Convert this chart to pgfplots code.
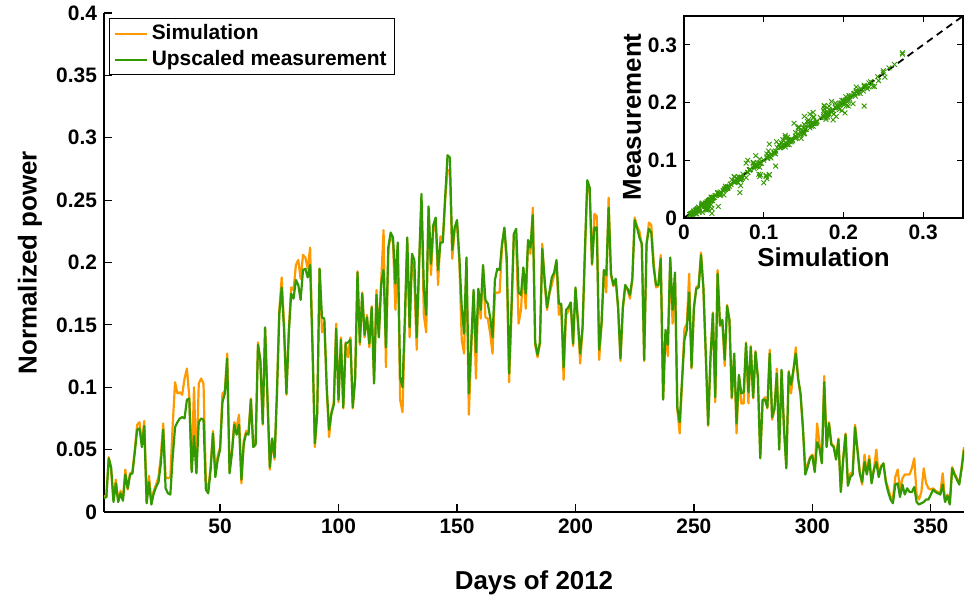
\documentclass[border=0pt]{standalone}
\usepackage{fontspec}
\setmainfont{Liberation Sans}
\usepackage{pgfplots}
\usepackage{pgfplotstable}
\pgfplotsset{compat=1.18}
\definecolor{simorange}{RGB}{255,153,0}
\definecolor{measgreen}{RGB}{51,153,0}
\pgfplotstableread{
d sim meas
1 0.013 0.011
2 0.012 0.012
3 0.044 0.043
4 0.034 0.036
5 0.010 0.008
6 0.026 0.023
7 0.009 0.008
8 0.017 0.015
9 0.011 0.009
10 0.034 0.030
11 0.018 0.019
12 0.031 0.030
13 0.032 0.031
14 0.050 0.048
15 0.070 0.066
16 0.072 0.067
17 0.055 0.052
18 0.073 0.069
19 0.008 0.007
20 0.029 0.024
21 0.008 0.006
22 0.017 0.015
23 0.022 0.020
24 0.028 0.024
25 0.045 0.039
26 0.071 0.066
27 0.028 0.019
28 0.027 0.015
29 0.028 0.014
30 0.070 0.044
31 0.104 0.068
32 0.095 0.072
33 0.096 0.075
34 0.094 0.076
35 0.107 0.075
36 0.115 0.090
37 0.092 0.091
38 0.034 0.032
39 0.100 0.061
40 0.032 0.031
41 0.103 0.072
42 0.107 0.075
43 0.103 0.074
44 0.024 0.018
45 0.018 0.015
46 0.036 0.034
47 0.065 0.063
48 0.030 0.028
49 0.045 0.042
50 0.052 0.050
51 0.095 0.088
52 0.097 0.095
53 0.127 0.123
54 0.033 0.031
55 0.049 0.047
56 0.072 0.070
57 0.068 0.062
58 0.078 0.070
59 0.023 0.026
60 0.057 0.055
61 0.065 0.063
62 0.064 0.062
63 0.091 0.090
64 0.053 0.052
65 0.055 0.054
66 0.136 0.134
67 0.120 0.122
68 0.070 0.071
69 0.147 0.148
70 0.090 0.092
71 0.034 0.036
72 0.058 0.059
73 0.042 0.044
74 0.096 0.095
75 0.162 0.159
76 0.188 0.180
77 0.150 0.146
78 0.094 0.095
79 0.146 0.143
80 0.180 0.175
81 0.178 0.171
82 0.198 0.186
83 0.202 0.182
84 0.187 0.170
85 0.206 0.194
86 0.204 0.195
87 0.195 0.188
88 0.212 0.198
89 0.135 0.132
90 0.052 0.055
91 0.080 0.079
92 0.195 0.195
93 0.144 0.156
94 0.152 0.155
95 0.100 0.100
96 0.060 0.066
97 0.080 0.079
98 0.088 0.086
99 0.151 0.147
100 0.088 0.090
101 0.140 0.138
102 0.083 0.084
103 0.136 0.135
104 0.124 0.136
105 0.140 0.138
106 0.083 0.084
107 0.108 0.106
108 0.193 0.192
109 0.134 0.136
110 0.176 0.175
111 0.140 0.142
112 0.158 0.156
113 0.132 0.135
114 0.165 0.164
115 0.105 0.103
116 0.178 0.174
117 0.141 0.140
118 0.185 0.183
119 0.226 0.194
120 0.116 0.132
121 0.210 0.212
122 0.222 0.224
123 0.216 0.220
124 0.162 0.183
125 0.214 0.216
126 0.090 0.108
127 0.080 0.100
128 0.150 0.156
129 0.218 0.220
130 0.140 0.148
131 0.205 0.207
132 0.185 0.202
133 0.130 0.140
134 0.197 0.199
135 0.250 0.255
136 0.158 0.180
137 0.144 0.158
138 0.243 0.245
139 0.190 0.199
140 0.226 0.230
141 0.234 0.236
142 0.182 0.194
143 0.221 0.216
144 0.218 0.216
145 0.250 0.252
146 0.274 0.286
147 0.274 0.284
148 0.203 0.210
149 0.226 0.228
150 0.232 0.234
151 0.200 0.204
152 0.138 0.164
153 0.127 0.143
154 0.203 0.204
155 0.078 0.095
156 0.130 0.135
157 0.176 0.178
158 0.107 0.128
159 0.178 0.179
160 0.155 0.162
161 0.196 0.198
162 0.156 0.170
163 0.155 0.167
164 0.143 0.156
165 0.127 0.140
166 0.175 0.186
167 0.176 0.195
168 0.176 0.194
169 0.213 0.215
170 0.227 0.228
171 0.198 0.204
172 0.104 0.111
173 0.160 0.164
174 0.222 0.223
175 0.216 0.227
176 0.151 0.176
177 0.162 0.174
178 0.195 0.196
179 0.163 0.175
180 0.216 0.218
181 0.207 0.212
182 0.244 0.238
183 0.134 0.136
184 0.124 0.126
185 0.135 0.136
186 0.215 0.211
187 0.183 0.186
188 0.162 0.164
189 0.175 0.176
190 0.182 0.188
191 0.190 0.192
192 0.200 0.202
193 0.158 0.167
194 0.166 0.167
195 0.106 0.116
196 0.158 0.162
197 0.161 0.164
198 0.167 0.168
199 0.133 0.135
200 0.179 0.180
201 0.153 0.154
202 0.119 0.127
203 0.147 0.148
204 0.208 0.210
205 0.264 0.266
206 0.257 0.260
207 0.198 0.199
208 0.239 0.228
209 0.237 0.228
210 0.122 0.130
211 0.150 0.151
212 0.193 0.194
213 0.176 0.190
214 0.252 0.244
215 0.190 0.191
216 0.181 0.182
217 0.186 0.187
218 0.163 0.164
219 0.121 0.123
220 0.163 0.164
221 0.180 0.182
222 0.178 0.179
223 0.171 0.174
224 0.186 0.187
225 0.236 0.234
226 0.229 0.228
227 0.225 0.220
228 0.214 0.215
229 0.121 0.122
230 0.214 0.215
231 0.232 0.227
232 0.230 0.224
233 0.201 0.196
234 0.180 0.182
235 0.181 0.182
236 0.206 0.203
237 0.091 0.090
238 0.143 0.146
239 0.125 0.134
240 0.203 0.204
241 0.151 0.162
242 0.190 0.192
243 0.082 0.084
244 0.063 0.072
245 0.104 0.106
246 0.147 0.138
247 0.151 0.146
248 0.191 0.176
249 0.115 0.116
250 0.163 0.164
251 0.180 0.179
252 0.182 0.180
253 0.208 0.206
254 0.179 0.180
255 0.126 0.127
256 0.069 0.070
257 0.123 0.124
258 0.160 0.159
259 0.088 0.092
260 0.194 0.191
261 0.149 0.150
262 0.153 0.154
263 0.117 0.122
264 0.166 0.165
265 0.153 0.154
266 0.091 0.092
267 0.126 0.127
268 0.063 0.071
269 0.109 0.110
270 0.087 0.095
271 0.087 0.096
272 0.136 0.135
273 0.087 0.096
274 0.133 0.132
275 0.091 0.092
276 0.129 0.128
277 0.107 0.108
278 0.044 0.043
279 0.089 0.090
280 0.092 0.090
281 0.083 0.084
282 0.130 0.127
283 0.074 0.076
284 0.082 0.083
285 0.115 0.111
286 0.051 0.050
287 0.113 0.114
288 0.067 0.068
289 0.036 0.035
290 0.113 0.112
291 0.095 0.102
292 0.113 0.114
293 0.132 0.127
294 0.106 0.107
295 0.094 0.095
296 0.067 0.068
297 0.036 0.030
298 0.038 0.036
299 0.044 0.043
300 0.046 0.045
301 0.033 0.032
302 0.071 0.056
303 0.055 0.051
304 0.040 0.039
305 0.109 0.104
306 0.053 0.052
307 0.072 0.071
308 0.055 0.054
309 0.053 0.052
310 0.043 0.042
311 0.059 0.058
312 0.017 0.016
313 0.043 0.042
314 0.063 0.062
315 0.022 0.021
316 0.031 0.028
317 0.031 0.030
318 0.070 0.068
319 0.051 0.050
320 0.032 0.031
321 0.022 0.024
322 0.046 0.040
323 0.031 0.030
324 0.045 0.042
325 0.024 0.023
326 0.035 0.034
327 0.050 0.040
328 0.029 0.028
329 0.037 0.036
330 0.039 0.039
331 0.025 0.024
332 0.019 0.016
333 0.012 0.010
334 0.011 0.007
335 0.028 0.022
336 0.034 0.023
337 0.018 0.012
338 0.027 0.022
339 0.030 0.014
340 0.030 0.019
341 0.030 0.016
342 0.035 0.016
343 0.043 0.020
344 0.014 0.008
345 0.010 0.006
346 0.016 0.007
347 0.035 0.008
348 0.023 0.010
349 0.019 0.010
350 0.018 0.014
351 0.019 0.018
352 0.017 0.016
353 0.016 0.015
354 0.015 0.014
355 0.031 0.022
356 0.009 0.008
357 0.014 0.013
358 0.007 0.006
359 0.036 0.035
360 0.031 0.030
361 0.027 0.026
362 0.023 0.022
363 0.036 0.035
364 0.052 0.050
}\datatable
\begin{document}
\begin{tikzpicture}
\path[use as bounding box] (-52bp,-44.5bp) rectangle (430.5bp,256bp);
\begin{axis}[
  at={(0,0)}, anchor=south west,
  scale only axis, width=430bp, height=249.5bp,
  xmin=1, xmax=364, ymin=0, ymax=0.4,
  enlargelimits=false,
  axis lines=left, axis line style={-, line width=0.6bp, black},
  tick align=inside, major tick length=4bp, tick style={black, line width=0.6bp},
  xtick={50,100,150,200,250,300,350},
  xticklabels={50,100,150,200,250,300,350},
  ytick={0,0.05,0.1,0.15,0.2,0.25,0.3,0.35,0.4},
  yticklabels={0,0.05,0.1,0.15,0.2,0.25,0.3,0.35,0.4},
  /pgf/number format/assume math mode=true,
  ticklabel style={font=\fontsize{10.5}{12}\selectfont\bfseries},
  xlabel={Days of 2012}, ylabel={Normalized power},
  every axis x label/.style={at={(axis description cs:0.5,-0.1423)}, anchor=center,
    font=\fontsize{13}{15}\selectfont\bfseries},
  every axis y label/.style={at={(axis description cs:-0.086,0.5)}, rotate=90, anchor=center,
    font=\fontsize{13}{15}\selectfont\bfseries},
  legend style={at={(axis description cs:0.0058,0.99)}, anchor=north west, draw=black,
    line width=0.6bp, font=\fontsize{10.5}{12}\selectfont\bfseries,
    inner xsep=2bp, inner ysep=1bp, row sep=0pt},
  legend cell align=left,
  legend image code/.code={\draw[#1] (0bp,0bp) -- (16bp,0bp);},
]
\addplot[simorange, mark=none, line width=1.1bp, line join=round] table[x=d,y=sim]{\datatable};
\addlegendentry{Simulation}
\addplot[measgreen, mark=none, line width=1.1bp, line join=round] table[x=d,y=meas]{\datatable};
\addlegendentry{Upscaled measurement}
\end{axis}
\begin{axis}[
  at={(290bp,147bp)}, anchor=south west,
  scale only axis, width=139.5bp, height=101bp,
  xmin=0, xmax=0.35, ymin=0, ymax=0.35,
  axis background/.style={fill=white},
  axis line style={line width=0.6bp, black},
  tick align=inside, major tick length=3bp, tick style={black, line width=0.6bp},
  xtick={0,0.1,0.2,0.3}, xticklabels={0,0.1,0.2,0.3},
  ytick={0,0.1,0.2,0.3}, yticklabels={0,0.1,0.2,0.3},
  ticklabel style={font=\fontsize{10.5}{12}\selectfont\bfseries},
  xlabel={Simulation}, ylabel={Measurement},
  every axis x label/.style={at={(axis description cs:0.5,-0.193)}, anchor=center,
    font=\fontsize{13}{15}\selectfont\bfseries},
  every axis y label/.style={at={(axis description cs:-0.186,0.5)}, rotate=90, anchor=center,
    font=\fontsize{13}{15}\selectfont\bfseries},
]
\addplot[measgreen, only marks, mark=x, mark size=1.7bp, line width=0.45bp] table[x=sim,y=meas]{\datatable};
\addplot[black, mark=none, dash pattern=on 3.5bp off 2.5bp, line width=0.9bp] coordinates {(0,0) (0.35,0.35)};
\end{axis}
\end{tikzpicture}
\end{document}
